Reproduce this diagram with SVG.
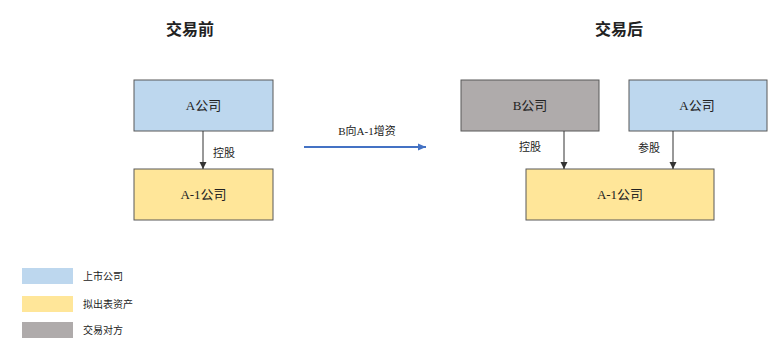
<svg xmlns="http://www.w3.org/2000/svg" width="784" height="355" viewBox="0 0 784 355">
<style>
text{font-family:"Liberation Serif","Noto Sans CJK SC",serif;fill:#222;}
.title{font-size:16px;font-weight:bold;text-anchor:middle;}
.lbl{font-size:13px;text-anchor:middle;dominant-baseline:central;}
.sm{font-size:11px;dominant-baseline:central;}
.blue{fill:#BDD7EE;}
.yel{fill:#FFE699;}
.gray{fill:#AFABAB;}
.box{stroke:#595959;stroke-width:1;}
.conn{stroke:#333;stroke-width:1;fill:none;marker-end:url(#ah);}
</style>
<defs>
<marker id="ah" markerWidth="8" markerHeight="8" refX="7" refY="4" orient="auto" markerUnits="userSpaceOnUse"><path d="M0,0.5 L7,4 L0,7.5 z" fill="#333"/></marker>
<marker id="ahb" markerWidth="9" markerHeight="8" refX="8" refY="4" orient="auto" markerUnits="userSpaceOnUse"><path d="M0,0.5 L8,4 L0,7.5 z" fill="#4472C4"/></marker>
</defs>
<rect width="784" height="355" fill="#fff"/>
<text class="title" x="190" y="35">交易前</text>
<text class="title" x="619" y="35">交易后</text>
<g id="a-left"><rect class="box blue" x="134" y="80" width="139" height="51"/><text class="lbl" x="203.5" y="105.5">A公司</text></g>
<g id="a1-left"><rect class="box yel" x="134" y="169" width="139" height="51"/><text class="lbl" x="203.5" y="194.5">A-1公司</text></g>
<g id="b-right"><rect class="box gray" x="461" y="80" width="138" height="51"/><text class="lbl" x="530" y="105.5">B公司</text></g>
<g id="a-right"><rect class="box blue" x="629" y="80" width="138" height="51"/><text class="lbl" x="697" y="105.5">A公司</text></g>
<g id="a1-right"><rect class="box yel" x="526" y="169" width="188" height="51"/><text class="lbl" x="620" y="194.5">A-1公司</text></g>
<g id="connectors">
<line class="conn" x1="203" y1="131" x2="203" y2="169"/>
<text class="sm" x="213" y="153">控股</text>
<line x1="304" y1="147" x2="426" y2="147" stroke="#4472C4" stroke-width="2" marker-end="url(#ahb)"/>
<text class="sm" x="367" y="131" text-anchor="middle">B向A-1增资</text>
<line class="conn" x1="564" y1="131" x2="564" y2="169"/>
<text class="sm" x="519" y="147">控股</text>
<line class="conn" x1="673" y1="131" x2="673" y2="169"/>
<text class="sm" x="638" y="148">参股</text>
</g>
<g id="legend">
<rect class="blue" x="22" y="268" width="51" height="16"/><text class="sm" x="83" y="276" style="font-size:10px">上市公司</text>
<rect class="yel" x="22" y="296" width="51" height="16"/><text class="sm" x="83" y="304" style="font-size:10px">拟出表资产</text>
<rect class="gray" x="22" y="322" width="51" height="16"/><text class="sm" x="83" y="330" style="font-size:10px">交易对方</text>
</g>
</svg>
